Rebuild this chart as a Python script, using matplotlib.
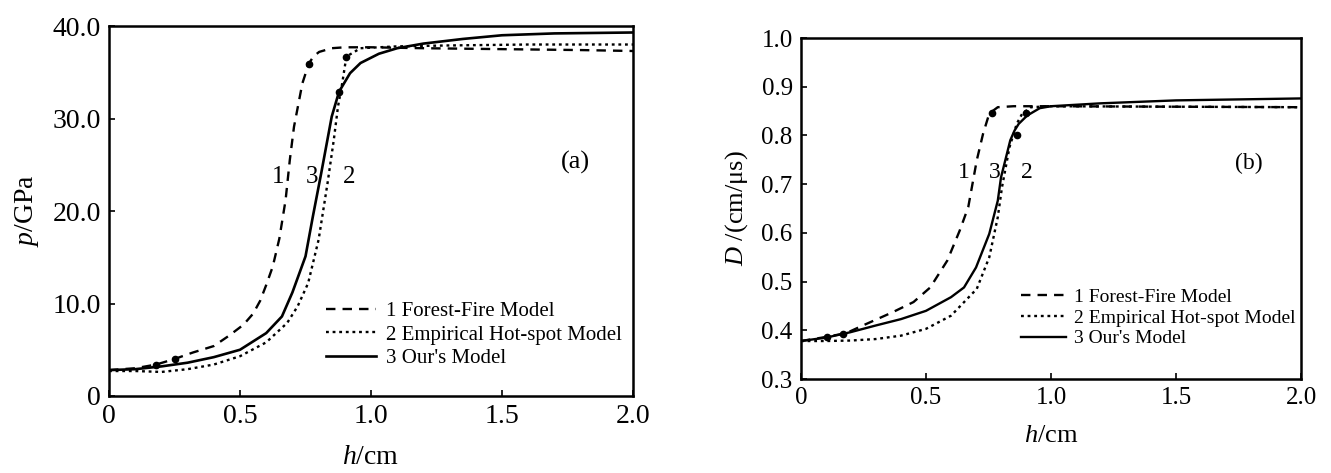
import matplotlib
matplotlib.use("Agg")
import matplotlib.pyplot as plt

plt.rcParams['font.family'] = ['Liberation Serif', 'DejaVu Serif']
plt.rcParams['mathtext.fontset'] = 'custom'
plt.rcParams['mathtext.rm'] = 'Liberation Serif'
plt.rcParams['mathtext.it'] = 'Liberation Serif:italic'

# (a) Druck p/GPa ueber h/cm
h_a1 = [0, 0.1, 0.18, 0.25, 0.32, 0.40, 0.457, 0.513, 0.55, 0.577, 0.60, 0.625, 0.65, 0.674,
        0.69, 0.706, 0.738, 0.762, 0.78, 0.802, 0.85, 0.9, 1.0, 1.2, 1.5, 1.8, 2.0]
p_a1 = [2.8, 3.0, 3.4, 4.0, 4.7, 5.4, 6.5, 7.7, 8.9, 10.3, 12.0, 14.0, 17.0, 21.2,
        25.5, 29.1, 33.8, 35.9, 36.7, 37.2, 37.6, 37.7, 37.7, 37.6, 37.5, 37.4, 37.3]
h_a2 = [0, 0.1, 0.2, 0.3, 0.4, 0.5, 0.6, 0.68, 0.72, 0.76, 0.80, 0.834, 0.858, 0.874,
        0.89, 0.906, 0.96, 1.1, 1.3, 1.6, 2.0]
p_a2 = [2.7, 2.7, 2.6, 2.9, 3.4, 4.3, 5.8, 7.9, 9.7, 12.2, 16.9, 23.0, 27.7, 31.3,
        33.8, 36.7, 37.6, 37.8, 37.9, 38.0, 38.0]
h_a3 = [0, 0.1, 0.2, 0.3, 0.4, 0.5, 0.6, 0.66, 0.70, 0.75, 0.778, 0.81, 0.85, 0.878,
        0.92, 0.96, 1.03, 1.1, 1.2, 1.35, 1.5, 1.7, 2.0]
p_a3 = [2.8, 2.9, 3.2, 3.6, 4.2, 5.0, 6.8, 8.6, 11.2, 15.1, 19.4, 24.1, 30.2, 32.9,
        34.9, 36.0, 37.0, 37.6, 38.1, 38.6, 39.0, 39.2, 39.3]
mk_a_h = [0.18, 0.25, 0.762, 0.906, 0.878]
mk_a_p = [3.4, 4.0, 35.9, 36.7, 32.9]

# (b) Detonationsgeschwindigkeit D/(cm/us) ueber h/cm
h_b1 = [0, 0.096, 0.18, 0.248, 0.366, 0.45, 0.517, 0.585, 0.635, 0.669, 0.703, 0.728,
        0.753, 0.787, 0.85, 1.0, 1.5, 2.0]
d_b1 = [0.378, 0.386, 0.394, 0.41, 0.437, 0.458, 0.488, 0.543, 0.605, 0.653, 0.749, 0.803,
        0.845, 0.858, 0.86, 0.86, 0.859, 0.858]
h_b2 = [0, 0.1, 0.2, 0.298, 0.40, 0.50, 0.60, 0.703, 0.753, 0.787, 0.804, 0.834, 0.863,
        0.885, 0.92, 1.0, 1.5, 2.0]
d_b2 = [0.378, 0.378, 0.379, 0.382, 0.389, 0.403, 0.43, 0.485, 0.55, 0.632, 0.694, 0.776,
        0.824, 0.845, 0.858, 0.86, 0.859, 0.858]
h_b3 = [0, 0.1, 0.197, 0.30, 0.40, 0.50, 0.60, 0.652, 0.70, 0.753, 0.787, 0.80, 0.837,
        0.854, 0.871, 0.905, 0.955, 1.0, 1.2, 1.5, 2.0]
d_b3 = [0.378, 0.385, 0.396, 0.41, 0.423, 0.44, 0.468, 0.488, 0.529, 0.598, 0.666, 0.714,
        0.79, 0.81, 0.824, 0.841, 0.856, 0.86, 0.866, 0.872, 0.876]
mk_b_h = [0.104, 0.168, 0.764, 0.90, 0.864]
mk_b_d = [0.386, 0.393, 0.846, 0.846, 0.80]

legend_labels = ['1 Forest-Fire Model', '2 Empirical Hot-spot Model', "3 Our's Model"]

fig = plt.figure(figsize=(13.31, 4.73), dpi=100)
ax1 = fig.add_axes([0.0819, 0.1628, 0.3937, 0.7822])
ax2 = fig.add_axes([0.6018, 0.1987, 0.3757, 0.7209])


def style_axis(ax, fs):
    for sp in ax.spines.values():
        sp.set_linewidth(1.8)
    ax.tick_params(direction='in', length=4, width=1.2, labelsize=fs, pad=6)


# linke Grafik
ax1.plot(h_a1, p_a1, color='k', lw=1.7, dashes=(4, 3), label=legend_labels[0])
ax1.plot(h_a2, p_a2, color='k', lw=1.7, dashes=(1.2, 1.6), label=legend_labels[1])
ax1.plot(h_a3, p_a3, color='k', lw=1.9, label=legend_labels[2])
ax1.plot(mk_a_h, mk_a_p, 'o', color='k', ms=4.5, ls='none')
ax1.set_xlim(0, 2.0)
ax1.set_ylim(0, 40)
ax1.set_xticks([0, 0.5, 1.0, 1.5, 2.0])
ax1.set_xticklabels(['0', '0.5', '1.0', '1.5', '2.0'])
ax1.set_yticks([0, 10, 20, 30, 40])
ax1.set_yticklabels(['0', '10.0', '20.0', '30.0', '40.0'])
style_axis(ax1, 20)
ax1.set_xlabel(r'$h$/cm', fontsize=20, labelpad=11)
ax1.set_ylabel(r'$p$/GPa', fontsize=20, labelpad=8)
ax1.text(0.645, 23.7, '1', fontsize=18, ha='center', va='center')
ax1.text(0.775, 23.7, '3', fontsize=18, ha='center', va='center')
ax1.text(0.915, 23.7, '2', fontsize=18, ha='center', va='center')
ax1.text(1.78, 25.2, '(a)', fontsize=19, ha='center', va='center')
ax1.legend(loc='upper left', bbox_to_anchor=(0.415, 0.255), frameon=False,
           fontsize=15, handlelength=2.4, handletextpad=0.45, labelspacing=0.18,
           borderpad=0, borderaxespad=0)

# rechte Grafik
ax2.plot(h_b1, d_b1, color='k', lw=1.7, dashes=(4, 3), label=legend_labels[0])
ax2.plot(h_b2, d_b2, color='k', lw=1.7, dashes=(1.2, 1.6), label=legend_labels[1])
ax2.plot(h_b3, d_b3, color='k', lw=1.7, label=legend_labels[2])
ax2.plot(mk_b_h, mk_b_d, 'o', color='k', ms=4.5, ls='none')
ax2.set_xlim(0, 2.0)
ax2.set_ylim(0.3, 1.0)
ax2.set_xticks([0, 0.5, 1.0, 1.5, 2.0])
ax2.set_xticklabels(['0', '0.5', '1.0', '1.5', '2.0'])
ax2.set_yticks([0.3, 0.4, 0.5, 0.6, 0.7, 0.8, 0.9, 1.0])
ax2.set_yticklabels(['0.3', '0.4', '0.5', '0.6', '0.7', '0.8', '0.9', '1.0'])
style_axis(ax2, 18)
ax2.set_xlabel(r'$h$/cm', fontsize=19, labelpad=11)
ax2.set_ylabel(r'$D$ /(cm/μs)', fontsize=19, labelpad=8)
ax2.text(0.652, 0.724, '1', fontsize=17, ha='center', va='center')
ax2.text(0.775, 0.724, '3', fontsize=17, ha='center', va='center')
ax2.text(0.905, 0.724, '2', fontsize=17, ha='center', va='center')
ax2.text(1.79, 0.743, '(b)', fontsize=17, ha='center', va='center')
ax2.legend(loc='upper left', bbox_to_anchor=(0.44, 0.265), frameon=False,
           fontsize=14, handlelength=2.3, handletextpad=0.45, labelspacing=0.15,
           borderpad=0, borderaxespad=0)

fig.savefig('out.png', dpi=100)
